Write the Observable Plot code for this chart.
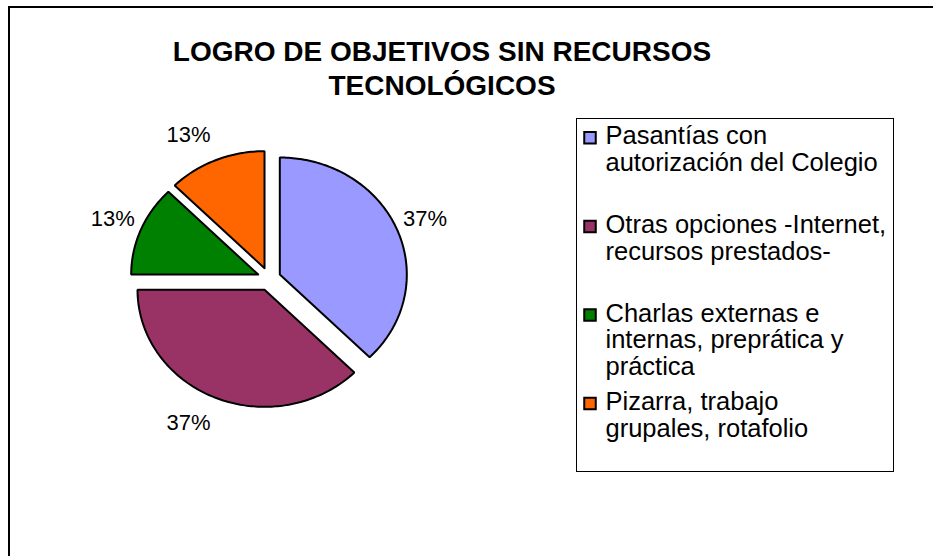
<!DOCTYPE html>
<html><head><meta charset="utf-8">
<script src="https://cdn.jsdelivr.net/npm/d3@7"></script>
<script src="https://cdn.jsdelivr.net/npm/@observablehq/plot@0.6"></script>
<style>
html,body{margin:0;padding:0;background:#fff;overflow:hidden;width:933px;height:556px;}
#frame{position:absolute;left:8px;top:6px;width:1000px;height:700px;border:2px solid #000;box-sizing:border-box;}
#chart{position:absolute;left:0;top:0;}
#title{position:absolute;left:0;top:34.8px;width:884px;text-align:center;font-family:"Liberation Sans",Arial,sans-serif;font-weight:bold;font-size:28px;line-height:34px;color:#000;}
#legend{position:absolute;left:576px;top:118px;width:318px;height:354px;border:1px solid #000;box-sizing:border-box;background:#fff;}
</style></head><body>
<div id="frame"></div>
<div id="chart"></div>
<div id="title">LOGRO DE OBJETIVOS SIN RECURSOS<br>TECNOLÓGICOS</div>
<div id="legend"></div>
<script>
const categories = [
  "Pasantías con\nautorización del Colegio",
  "Otras opciones -Internet,\nrecursos prestados-",
  "Charlas externas e\ninternas, preprática y\npráctica",
  "Pizarra, trabajo\ngrupales, rotafolio"
];
const values = [37.5, 37.5, 12.5, 12.5];
const percentLabels = ["37%", "37%", "13%", "13%"];
const colors = ["#9999FF", "#993366", "#008000", "#FF6600"];

const font = '"Liberation Sans", Arial, sans-serif';
const rows = categories.map((name, i) => ({name, value: values[i], pct: percentLabels[i], idx: i}));
const arcs = d3.pie().sort(null).value(d => d.value)(rows);

// exploded slices
const ox = 11.7 / 127, oy = 11.7 / 117;
const pts = [];
for (const a of arcs) {
  const m = (a.startAngle + a.endAngle) / 2;
  const vx = ox * Math.sin(m), vy = oy * Math.cos(m);
  const name = a.data.name;
  pts.push({name, x: vx, y: vy});
  const n = Math.max(2, Math.ceil((a.endAngle - a.startAngle) / (Math.PI / 180)));
  for (let k = 0; k <= n; k++) {
    const t = a.startAngle + (a.endAngle - a.startAngle) * k / n;
    pts.push({name, x: vx + Math.sin(t), y: vy + Math.cos(t)});
  }
  pts.push({name, x: vx, y: vy});
}
const labelRows = arcs.map(a => {
  const m = (a.startAngle + a.endAngle) / 2;
  const s = Math.sin(m);
  return {label: a.data.pct, x: 1.1 * s + Math.sign(s) * 0.213, y: 1.33 * Math.cos(m)};
});

const chart = Plot.plot({
  width: 933, height: 556, margin: 0,
  x: {domain: [-1, 1], range: [141.5, 395.5], axis: null},
  y: {domain: [-1, 1], range: [395.5, 161.5], axis: null},
  color: {domain: categories, range: colors},
  style: {background: "transparent", fontFamily: font},
  marks: [
    Plot.line(pts, {x: "x", y: "y", z: "name", fill: "name", stroke: "#000", strokeWidth: 2, strokeLinejoin: "miter"}),
    Plot.text(labelRows, {x: "x", y: "y", text: "label", fontSize: 22, fill: "#000"})
  ]
});
document.getElementById("chart").appendChild(chart);

// legend
const lineStep = 26.8 / 88.6;
const legendLines = [];
rows.forEach((r, i) => r.name.split("\n").forEach((line, j) => legendLines.push({line, pos: i + j * lineStep})));
const legend = Plot.plot({
  width: 316, height: 352, margin: 0,
  y: {domain: [0, 3], range: [16.8, 282.6], axis: null},
  color: {domain: categories, range: colors},
  style: {background: "transparent", fontFamily: font},
  marks: [
    Plot.dot(rows, {y: "idx", fill: "name", stroke: "#000", strokeWidth: 2, symbol: "square", r: 6.5, frameAnchor: "left", dx: 12.5, dy: 1.5}),
    Plot.text(legendLines, {y: "pos", text: "line", frameAnchor: "left", textAnchor: "start", dx: 28, fontSize: 25.5, fill: "#000"})
  ]
});
document.getElementById("legend").appendChild(legend);
</script>
</body></html>
